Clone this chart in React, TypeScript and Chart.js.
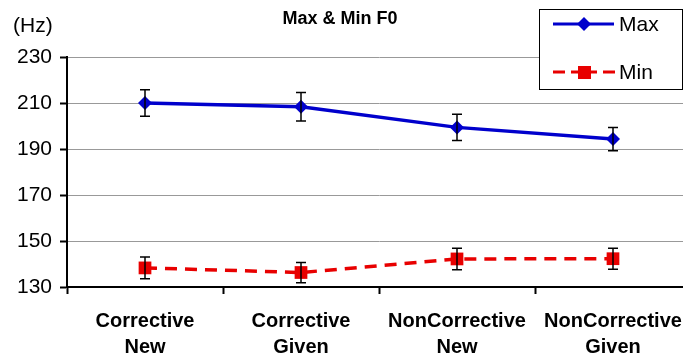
import React, { useEffect, useRef } from "react";
import { Chart, registerables } from "chart.js";

Chart.register(...registerables);

const categories: string[][] = [
  ["Corrective", "New"],
  ["Corrective", "Given"],
  ["NonCorrective", "New"],
  ["NonCorrective", "Given"],
];
const maxValues = [210.0, 208.4, 199.4, 194.3];
const maxErrors = [5.8, 6.2, 5.7, 5.1];
const minValues = [138.3, 136.3, 142.2, 142.3];
const minErrors = [4.7, 4.4, 4.7, 4.6];
const yTicks = [130, 150, 170, 190, 210, 230];
const titleText = "Max & Min F0";
const unitText = "(Hz)";
const seriesNames = ["Max", "Min"];

const BLUE = "#0000CC";
const RED = "#E80000";
const FONT = "'Liberation Sans', Arial, sans-serif";

const errorBars = {
  id: "errorBars",
  afterDatasetsDraw(chart: any) {
    const ctx = chart.ctx;
    const y = chart.scales.y;
    const errs = [maxErrors, minErrors];
    ctx.save();
    ctx.strokeStyle = "#000";
    ctx.lineWidth = 1.5;
    chart.data.datasets.forEach((ds: any, di: number) => {
      const meta = chart.getDatasetMeta(di);
      ds.data.forEach((v: number, i: number) => {
        const px = meta.data[i].x;
        const top = y.getPixelForValue(v + errs[di][i]);
        const bot = y.getPixelForValue(v - errs[di][i]);
        ctx.beginPath();
        ctx.moveTo(px, top);
        ctx.lineTo(px, bot);
        ctx.moveTo(px - 5, top);
        ctx.lineTo(px + 5, top);
        ctx.moveTo(px - 5, bot);
        ctx.lineTo(px + 5, bot);
        ctx.stroke();
      });
    });
    ctx.restore();
  },
};

const decorations = {
  id: "decorations",
  afterDraw(chart: any) {
    const ctx = chart.ctx;
    ctx.save();
    // title
    ctx.fillStyle = "#000";
    ctx.font = `bold 18px ${FONT}`;
    ctx.textAlign = "center";
    ctx.textBaseline = "middle";
    ctx.fillText(titleText, 340, 19);
    // unit
    ctx.font = `21px ${FONT}`;
    ctx.textAlign = "left";
    ctx.fillText(unitText, 13, 26);
    // legend box
    ctx.fillStyle = "#fff";
    ctx.fillRect(539.5, 9.5, 143, 80);
    ctx.strokeStyle = "#000";
    ctx.lineWidth = 1;
    ctx.strokeRect(539.5, 9.5, 143, 80);
    // Max entry
    ctx.strokeStyle = BLUE;
    ctx.lineWidth = 3;
    ctx.beginPath();
    ctx.moveTo(553, 24);
    ctx.lineTo(614, 24);
    ctx.stroke();
    ctx.fillStyle = BLUE;
    ctx.beginPath();
    ctx.moveTo(584, 17);
    ctx.lineTo(591, 24);
    ctx.lineTo(584, 31);
    ctx.lineTo(577, 24);
    ctx.closePath();
    ctx.fill();
    // Min entry
    ctx.strokeStyle = RED;
    ctx.beginPath();
    ctx.moveTo(553, 72);
    ctx.lineTo(565, 72);
    ctx.moveTo(571, 72);
    ctx.lineTo(597, 72);
    ctx.moveTo(603, 72);
    ctx.lineTo(615, 72);
    ctx.stroke();
    ctx.fillStyle = RED;
    ctx.fillRect(578, 66, 13, 13);
    ctx.fillStyle = "#000";
    ctx.font = `21px ${FONT}`;
    ctx.textAlign = "left";
    ctx.fillText(seriesNames[0], 619, 25);
    ctx.fillText(seriesNames[1], 619, 73);
    ctx.restore();
  },
};

export default function App() {
  const ref = useRef<HTMLCanvasElement | null>(null);
  useEffect(() => {
    if (!ref.current) return;
    const chart = new Chart(ref.current, {
      type: "line",
      data: {
        labels: categories,
        datasets: [
          {
            label: seriesNames[0],
            data: maxValues,
            borderColor: BLUE,
            backgroundColor: BLUE,
            borderWidth: 3.5,
            pointStyle: "rectRot",
            pointRadius: 7,
            pointBorderWidth: 0,
            tension: 0,
          },
          {
            label: seriesNames[1],
            data: minValues,
            borderColor: RED,
            backgroundColor: RED,
            borderWidth: 3.5,
            borderDash: [12, 8],
            pointStyle: "rect",
            pointRadius: 9,
            pointBorderWidth: 0,
            tension: 0,
          },
        ],
      },
      options: {
        responsive: false,
        animation: false,
        layout: { padding: { top: 57, right: 8, left: 0, bottom: 0 } },
        plugins: {
          legend: { display: false },
          title: { display: false },
          tooltip: { enabled: false },
        },
        scales: {
          x: {
            offset: true,
            grid: {
              offset: true,
              drawOnChartArea: false,
              tickLength: 7,
              tickColor: "#000",
              tickWidth: 2,
            },
            border: { color: "#000", width: 2 },
            ticks: {
              color: "#000",
              font: { family: FONT, size: 20, weight: "bold", lineHeight: 1.3 },
              padding: 14,
              maxRotation: 0,
              autoSkip: false,
            },
            afterFit(scale: any) {
              scale.height = 73;
            },
          },
          y: {
            min: 130,
            max: 230,
            afterBuildTicks(scale: any) {
              scale.ticks = yTicks.map((v) => ({ value: v }));
            },
            grid: {
              color: "#999",
              lineWidth: 1,
              tickLength: 7,
              tickColor: "#000",
              tickWidth: 2,
            },
            border: { color: "#000", width: 2 },
            ticks: {
              color: "#000",
              font: { family: FONT, size: 21 },
              padding: 8,
            },
            afterFit(scale: any) {
              scale.width = 67;
            },
          },
        },
      },
      plugins: [errorBars, decorations],
    });
    return () => chart.destroy();
  }, []);
  return (
    <div
      style={{
        position: "fixed",
        left: 0,
        top: 0,
        width: 683,
        height: 360,
        overflow: "hidden",
        background: "#fff",
      }}
    >
      <canvas ref={ref} width={700} height={360} style={{ display: "block" }} />
    </div>
  );
}
